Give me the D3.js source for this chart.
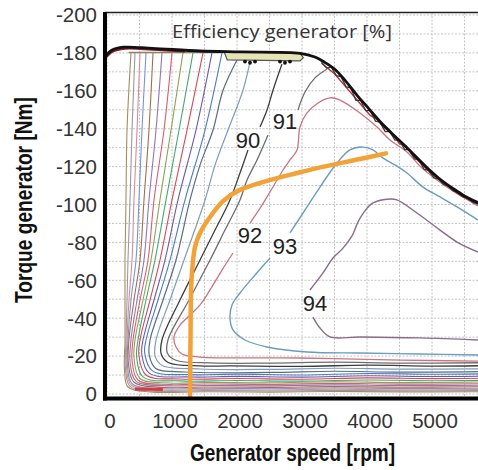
<!DOCTYPE html>
<html><head><meta charset="utf-8">
<script src="https://cdn.jsdelivr.net/npm/d3@7"></script>
<style>body{margin:0;background:#fff}svg{display:block}</style>
</head><body><svg id="c" width="478" height="470"></svg>
<script>
// ---- tick labels / grid ----
const xTicks = [0,1000,2000,3000,4000,5000];
const yTicks = [0,-20,-40,-60,-80,-100,-120,-140,-160,-180,-200];
const gridRpm = [0,500,1000,1500,2000,2500,3000,3500,4000,4500,5000,5500];
const gridNm = [0,-10,-20,-30,-40,-50,-60,-70,-80,-90,-100,-110,-120,-130,-140,-150,-160,-170,-180,-190,-200];

// ---- max torque envelope and measured lines ----
const envelope = [[-30,-178],[80,-181.5],[250,-183],[700,-182.4],[1430,-181],[2050,-180.5],[2970,-179.8],[3200,-177.8],[3350,-175],[3500,-171.5],[3650,-166],[3850,-157.5],[4030,-150.5],[4200,-143.8],[4400,-137],[4615,-130],[4920,-119.5],[5100,-114],[5320,-108.5],[5500,-104.5],[5710,-101]];
const envelopeRed = [[-30,-177],[80,-180.6],[280,-182.3],[700,-181.8],[1200,-180.8]];
const measuredRed = [[3300,-174.5],[3500,-169],[3700,-161],[3900,-153],[4050,-147],[4150,-145],[4250,-141],[4400,-137],[4500,-132],[4600,-131],[4700,-126],[4850,-121],[5000,-116],[5150,-112],[5300,-108],[5450,-104.5],[5600,-102],[5710,-100]];
const measuredZig = [[3300,-175],[3380,-172],[3450,-172.5],[3530,-168],[3600,-167.5],[3680,-162],[3750,-161.5],[3830,-155],[3900,-155],[3980,-149.5],[4050,-149.5],[4130,-144],[4200,-143.5],[4280,-138.5],[4350,-138.5],[4430,-134],[4500,-134],[4580,-129],[4650,-129],[4730,-124],[4800,-123.5],[4880,-118.5],[4950,-118],[5030,-114],[5100,-113.5],[5180,-110.5],[5250,-110],[5330,-107],[5400,-106.5],[5480,-104],[5550,-103.5],[5630,-101],[5710,-100.5]];
const plateauLine = [[330,-180.2],[1800,-180.2]];
const plateauBox = [[1800,-180.8],[2970,-179.8],[3020,-177.5],[2970,-175.8],[1850,-176.3]];
const markerRpm = [2123,2200,2277,2662,2738,2815];
const markerNm = [-175.4,-174.8,-175.4,-175.4,-174.8,-175.4];

// ---- operating line ----
const operating = [[1277,2],[1285,-30],[1300,-60],[1354,-77.6],[1431,-85],[1585,-93.4],[1785,-101.8],[2046,-107.7],[2970,-117],[3892,-124],[4292,-127]];

// ---- efficiency contours (rpm, Nm) ----
const c_F1 = [[369,-180],[308,-139.3],[292,-102.4],[277,-70.7],[277,-49.6],[277,-28.5],[270,-12],[323,-3.7],[662,-1.1],[1500,-1.2],[2500,-1.0],[3500,-1.3],[4500,-1.1],[5710,-1.2]];
const c_F2 = [[431,-180],[385,-139.3],[354,-102.4],[323,-70.7],[308,-49.6],[292,-28.5],[285,-13],[350,-4.2],[662,-1.6],[1500,-1.8],[2500,-1.6],[3500,-1.9],[4500,-1.7],[5710,-1.8]];
const c_F3 = [[508,-180],[462,-139.3],[415,-102.4],[385,-70.7],[338,-49.6],[308,-28.5],[300,-14],[370,-4.8],[815,-2.1],[1500,-2.3],[2500,-2.1],[3500,-2.5],[4500,-2.2],[5710,-2.4]];
const c_F4 = [[600,-180],[538,-139.3],[492,-102.4],[446,-70.7],[369,-49.6],[323,-28.5],[315,-15],[385,-5.5],[815,-2.8],[1500,-3.0],[2500,-2.8],[3500,-3.2],[4500,-2.9],[5710,-3.0]];
const c_F5 = [[708,-180],[646,-139.3],[569,-102.4],[508,-70.7],[415,-49.6],[338,-28.5],[330,-16],[415,-6.2],[815,-3.5],[1500,-3.7],[2500,-3.5],[3500,-3.9],[4500,-3.6],[5710,-3.8]];
const c_F6 = [[846,-180],[754,-139.3],[646,-102.4],[569,-70.7],[462,-49.6],[369,-28.5],[355,-17],[446,-6.8],[970,-4.3],[1500,-4.5],[2500,-4.3],[3500,-4.8],[4500,-4.4],[5710,-4.6]];
const c_F7 = [[1000,-180],[877,-139.3],[723,-102.4],[631,-70.7],[508,-49.6],[400,-28.5],[385,-18],[477,-7.4],[970,-5.0],[1500,-5.3],[2500,-5.1],[3500,-5.6],[4500,-5.2],[5710,-5.4]];
const c_F8 = [[1169,-180],[985,-139.3],[815,-102.4],[677,-70.7],[554,-49.6],[431,-28.5],[415,-19],[508,-8.2],[970,-5.8],[1500,-6.1],[2500,-5.9],[3500,-6.5],[4500,-6.0],[5710,-6.3]];
const c_F9 = [[1323,-180],[1108,-139.3],[908,-102.4],[738,-70.7],[600,-49.6],[477,-28.5],[455,-20],[554,-9],[1120,-6.9],[2000,-7.1],[3000,-6.8],[4000,-7.4],[5000,-7.0],[5710,-7.2]];
const c_F10 = [[1477,-180],[1231,-139.3],[1000,-102.4],[815,-70.7],[662,-49.6],[508,-28.5],[490,-20.6],[600,-10],[1120,-7.9],[2000,-8.2],[3000,-7.8],[4000,-8.5],[5000,-8.1],[5710,-8.3]];
const c_F11 = [[1615,-180],[1369,-139.3],[1092,-102.4],[892,-70.7],[723,-49.6],[554,-28.5],[535,-21.1],[650,-11],[1280,-9],[2000,-9.3],[3000,-8.9],[4000,-9.6],[5000,-9.2],[5710,-9.4]];
const c_F12 = [[1769,-180],[1508,-139.3],[1200,-102.4],[969,-70.7],[785,-49.6],[600,-28.5],[580,-21.6],[700,-12.2],[1280,-10.2],[2000,-10.5],[3000,-10.0],[4000,-10.8],[5000,-10.4],[5710,-10.6]];
const c_88 = [[2000,-176.3],[1785,-160.3],[1631,-139.3],[1431,-120.8],[1277,-102.4],[1062,-70.7],[862,-49.6],[662,-28.5],[650,-20.5],[750,-13.5],[1200,-11.6],[2500,-11.4],[3500,-12.0],[4500,-11.5],[5710,-11.8]];
const c_89 = [[2200,-175.2],[2092,-160.3],[1862,-139.3],[1662,-120.8],[1508,-102.4],[1185,-70.7],[969,-49.6],[754,-28.5],[740,-20],[850,-15],[1431,-13.2],[2500,-13.0],[3500,-13.6],[4500,-13.1],[5710,-13.3]];
const c_90 = [[2692,-174.1],[2554,-160.3],[2462,-149.9],[2354,-140.9],null,[2169,-128.8],[2046,-116.6],[1892,-102.4],[1662,-86.5],[1431,-70.7],[1123,-49.6],[846,-28.5],[835,-21],[950,-16.5],[1431,-14.8],[1892,-14.8],[3000,-14.6],[4000,-15.2],[5000,-14.7],[5710,-14.9]];
const c_91 = [[3385,-171.5],[3200,-166.8],[3046,-159.4],[2938,-149.9],null,[2477,-136.7],[2308,-123.5],[2154,-112.9],[2046,-102.4],[1815,-86.5],[1585,-70.7],[1262,-49.6],[938,-28.5],[930,-21.5],[1060,-17.8],[1585,-16.4],[2500,-16.3],[3500,-16.8],[4500,-16.3],[5710,-16.5]];
const c_92 = [[5708,-17.4],[4508,-17.9],[2969,-19],[1431,-19.5],[1154,-21.1],[1062,-24.8],[1031,-30.1],[1123,-36.4],[1231,-40.1],[1431,-47],[1585,-54.9],[1769,-65.4],[1938,-74.4],null,[2200,-90.2],[2385,-99.7],[2508,-106.6],[2708,-118.2],[2815,-123.5],[2923,-128.8],[2969,-140.9],[3077,-148.3],[3246,-153.6],[3431,-156.3],[3585,-155.1],[3892,-148.3],[4154,-140.9],[4354,-134],[4615,-127.7],[4815,-120.3],[5077,-112.9],[5323,-107.1],[5708,-99.2]];
const c_93 = [[5708,-20.6],[4815,-21.1],[3892,-21.6],[3077,-22.2],[2462,-24.8],[2123,-28.5],[1938,-33.8],[1892,-40.6],[1923,-47],[2046,-53.3],[2277,-62.8],[2508,-71.8],null,[2815,-85],[3077,-98.7],[3277,-109.2],[3538,-121.9],[3738,-128.8],[3938,-130.3],[4092,-128.8],[4246,-124.5],[4450,-120.5],[4615,-116.6],[4862,-109.2],[5123,-104],[5385,-98.7],[5708,-91.8]];
const c_94 = [[5708,-28.5],[4815,-29.6],[3892,-30.1],[3431,-30.1],[3277,-34.8],[3169,-40.6],null,[3123,-54.9],[3323,-63.9],[3477,-71.8],[3631,-77],[3769,-83.4],[3862,-90.8],[3954,-96],[4092,-100.8],[4354,-102.9],[4462,-102.4],[4769,-95.5],[5123,-86.5],[5385,-80.2],[5708,-74.9]];
const c_lowRed = [[430,-2.6],[860,-2.4]];

const labelText = ["90","91","92","93","94"];
const labelRpm = [2169,2738,2200,2738,3200];
const labelNm = [-134,-144,-83.9,-78.1,-47.5];

// styles built from the named arrays
const contourLines = [
  {d:c_F1,c:"#a88c5c",w:1.1},{d:c_F2,c:"#9a9a9a",w:1.1},{d:c_F3,c:"#d98a9a",w:1.1},
  {d:c_F4,c:"#7a94c8",w:1.1},{d:c_F5,c:"#a06e4c",w:1.1},{d:c_F6,c:"#9474b4",w:1.1},
  {d:c_F7,c:"#d46070",w:1.1},{d:c_F8,c:"#8fa052",w:1.1},{d:c_F9,c:"#46a676",w:1.1},
  {d:c_F10,c:"#d24a5a",w:1.1},{d:c_F11,c:"#6a5aa8",w:1.1},{d:c_F12,c:"#4a7cc2",w:1.1},
  {d:c_88,c:"#5a6a88",w:1.2},{d:c_89,c:"#7e9cba",w:1.2},{d:c_90,c:"#3c3c3c",w:1.3},
  {d:c_91,c:"#6e6e6e",w:1.3},{d:c_92,c:"#c97480",w:1.3},{d:c_93,c:"#6b9cbf",w:1.4},
  {d:c_94,c:"#8c6a8c",w:1.4},{d:c_lowRed,c:"#d83848",w:3}
];

const svg = d3.select("#c");
const X = d3.scaleLinear().domain([0,5000]).range([107,432]);
const Y = d3.scaleLinear().domain([0,-200]).range([394,15]);
const xMin=-31, xMax=5720, yTop=-201.3, yBot=2.4;

svg.append("clipPath").attr("id","clip").append("rect")
  .attr("x",X(xMin)).attr("y",Y(yTop)).attr("width",X(xMax)-X(xMin)).attr("height",Y(yBot)-Y(yTop));

const g = svg.append("g").attr("clip-path","url(#clip)");

// grid
g.selectAll(".gx").data(gridRpm).join("line")
  .attr("x1",d=>X(d)).attr("x2",d=>X(d)).attr("y1",Y(yTop)).attr("y2",Y(yBot))
  .attr("stroke","#c4c4c4").attr("stroke-width",1).attr("stroke-dasharray","2,1.5");
g.selectAll(".gy").data(gridNm).join("line")
  .attr("x1",X(xMin)).attr("x2",X(xMax)).attr("y1",d=>Y(d)).attr("y2",d=>Y(d))
  .attr("stroke","#c4c4c4").attr("stroke-width",1).attr("stroke-dasharray","2,1.5");

const line = d3.line().defined(d=>d!==null).x(d=>X(d[0])).y(d=>Y(d[1])).curve(d3.curveCatmullRom.alpha(0.5));
const lineStraight = d3.line().x(d=>X(d[0])).y(d=>Y(d[1]));

// contours
g.selectAll(".ct").data(contourLines).join("path")
  .attr("d",d=>line(d.d)).attr("fill","none").attr("stroke",d=>d.c).attr("stroke-width",d=>d.w)
  .attr("stroke-linejoin","round");

// plateau details
g.append("path").attr("d",lineStraight(plateauLine)).attr("fill","none").attr("stroke","#8a8466").attr("stroke-width",1.6);
g.append("path").attr("d",lineStraight(plateauBox)+"Z").attr("fill","#e6e3b4").attr("stroke","#555").attr("stroke-width",1.2);
g.selectAll(".mk").data(markerRpm).join("circle")
  .attr("cx",d=>X(d)).attr("cy",(d,i)=>Y(markerNm[i])).attr("r",1.9).attr("fill","#111");

// measured lines near envelope
g.append("path").attr("d",lineStraight(measuredRed)).attr("fill","none").attr("stroke","#b8303e").attr("stroke-width",1.4);
g.append("path").attr("d",lineStraight(measuredZig)).attr("fill","none").attr("stroke","#3a3a3a").attr("stroke-width",1.3);
g.append("path").attr("d",line(envelopeRed)).attr("fill","none").attr("stroke","#8a1c2c").attr("stroke-width",2.4);
g.append("path").attr("d",line(envelope)).attr("fill","none").attr("stroke","#111").attr("stroke-width",2.8).attr("stroke-linejoin","round");

// operating line
g.append("path").attr("d",line(operating)).attr("fill","none").attr("stroke","#f2a236").attr("stroke-width",4.5).attr("stroke-linecap","round");

// contour labels
svg.selectAll(".lb").data(labelText).join("text")
  .attr("x",(d,i)=>X(labelRpm[i])).attr("y",(d,i)=>Y(labelNm[i]))
  .attr("text-anchor","middle").attr("dominant-baseline","central")
  .attr("font-family","'Liberation Sans', Arial, sans-serif").attr("font-size",22).attr("fill","#222")
  .text(d=>d);

// frame
svg.append("line").attr("x1",X(xMin)).attr("x2",X(xMax)).attr("y1",Y(yTop)).attr("y2",Y(yTop)).attr("stroke","#222").attr("stroke-width",1.5);
svg.append("line").attr("x1",X(xMin)).attr("x2",X(xMin)).attr("y1",Y(yTop)-0.5).attr("y2",Y(yBot)+2).attr("stroke","#000").attr("stroke-width",4);
svg.append("line").attr("x1",X(xMin)-2).attr("x2",X(xMax)).attr("y1",Y(yBot)).attr("y2",Y(yBot)).attr("stroke","#000").attr("stroke-width",4);

// tick labels
const tickFont = "'Liberation Sans', Arial, sans-serif";
svg.selectAll(".xt").data(xTicks).join("text")
  .attr("x",d=>X(d)+3).attr("y",428).attr("text-anchor","middle")
  .attr("font-family",tickFont).attr("font-size",20.5).attr("fill","#333").text(d=>d);
svg.selectAll(".yt").data(yTicks).join("text")
  .attr("x",97).attr("y",d=>Y(d)+7.3).attr("text-anchor","end")
  .attr("font-family",tickFont).attr("font-size",20.5).attr("fill","#333").text(d=>d);

// titles
svg.append("text").attr("x",172).attr("y",38).attr("font-family","'Open Sans','Liberation Sans',sans-serif")
  .attr("font-size",18).attr("fill","#333").attr("textLength",220).attr("lengthAdjust","spacingAndGlyphs")
  .text("Efficiency generator [%]");
svg.append("text").attr("x",292.5).attr("y",461).attr("text-anchor","middle")
  .attr("font-family","'Liberation Sans Narrow','Liberation Sans',Arial,sans-serif").attr("font-weight","bold")
  .attr("font-size",23).attr("fill","#111").attr("textLength",205).attr("lengthAdjust","spacingAndGlyphs")
  .text("Generator speed [rpm]");
svg.append("text").attr("transform","translate(32,200) rotate(-90)").attr("text-anchor","middle")
  .attr("font-family","'Liberation Sans Narrow','Liberation Sans',Arial,sans-serif").attr("font-weight","bold")
  .attr("font-size",23).attr("fill","#111").attr("textLength",206).attr("lengthAdjust","spacingAndGlyphs")
  .text("Torque generator [Nm]");
</script></body></html>
